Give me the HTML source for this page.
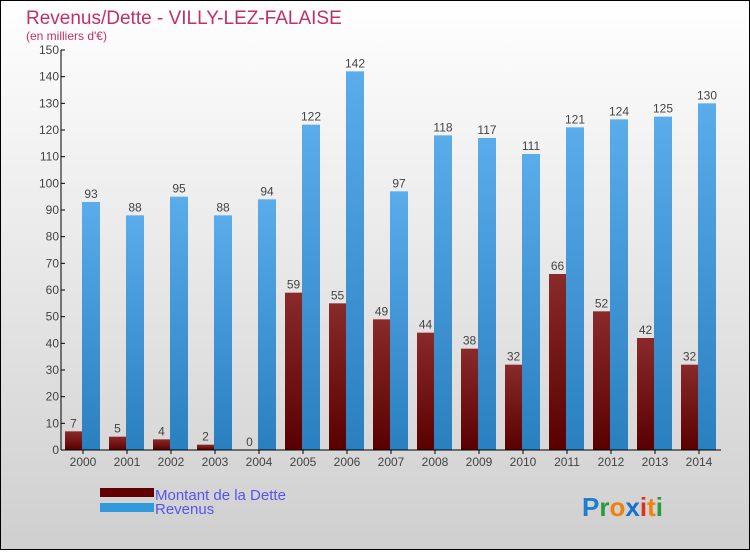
<!DOCTYPE html>
<html><head><meta charset="utf-8"><style>
body{margin:0}
#c{width:750px;height:550px;position:relative;font-family:"Liberation Sans",sans-serif}
</style></head><body>
<div id="c">
<svg id="s" width="750" height="550" xmlns="http://www.w3.org/2000/svg">
<defs>
<linearGradient id="bg" x1="0" y1="0" x2="0" y2="1"><stop offset="0" stop-color="#ffffff"/><stop offset="1" stop-color="#cfcfcf"/></linearGradient>
<linearGradient id="gd" x1="0" y1="0" x2="0" y2="1"><stop offset="0" stop-color="#8a2a2a"/><stop offset="1" stop-color="#5a0000"/></linearGradient>
<linearGradient id="gr" x1="0" y1="0" x2="0" y2="1"><stop offset="0" stop-color="#5aacea"/><stop offset="1" stop-color="#2a7fbf"/></linearGradient>
</defs>
<rect x="0.5" y="0.5" width="749" height="549" fill="url(#bg)" stroke="#000"/>
<text x="26" y="24" font-size="19" fill="#c0306a">Revenus/Dette - VILLY-LEZ-FALAISE</text>
<text x="26" y="40" font-size="12" fill="#c0306a">(en milliers d'€)</text>
<g id="bars"></g>
<g id="axes"></g>
<rect x="100" y="488" width="54" height="9" fill="#600000"/>
<rect x="100" y="503" width="54" height="9" fill="#3399dd"/>
<text x="155" y="500" font-size="15" fill="#5555ee">Montant de la Dette</text>
<text x="155" y="514" font-size="15" fill="#5555ee">Revenus</text>
<text x="582" y="516" font-size="26" font-weight="bold"><tspan fill="#1a7fd0">P</tspan><tspan fill="#2a9a3a">r</tspan><tspan fill="#f08010">o</tspan><tspan fill="#1a6fd0">x</tspan><tspan fill="#e03020">i</tspan><tspan fill="#f08010">t</tspan><tspan fill="#2a9a3a">i</tspan></text>
</svg>
</div>
<script>
const years=["2000","2001","2002","2003","2004","2005","2006","2007","2008","2009","2010","2011","2012","2013","2014"];
const dette=[7,5,4,2,0,59,55,49,44,38,32,66,52,42,32];
const revenus=[93,88,95,88,94,122,142,97,118,117,111,121,124,125,130];
const ticks=[0,10,20,30,40,50,60,70,80,90,100,110,120,130,140,150];
const NS="http://www.w3.org/2000/svg";
const x0=61,x1=721,y0=450,y1=50,maxV=150;
const gw=(x1-x0)/years.length;
const y=v=>y0-(v/maxV)*(y0-y1);
const bars=document.getElementById('bars'),axes=document.getElementById('axes');
function mk(t,a,p){const e=document.createElementNS(NS,t);for(const k in a)e.setAttribute(k,a[k]);p.appendChild(e);return e;}
years.forEach((yr,i)=>{
 const gx=x0+gw*i;
 const d=mk('rect',{x:gx+4,y:y(dette[i]),width:17,height:y0-y(dette[i]),fill:'url(#gd)'},bars);
 
 
 const r=mk('rect',{x:gx+21,y:y(revenus[i]),width:18,height:y0-y(revenus[i]),fill:'url(#gr)'},bars);
 
 
 const t1=mk('text',{x:gx+12.5,y:y(dette[i])-4,'font-size':12,fill:'#444','text-anchor':'middle'},bars);t1.textContent=dette[i];
 
 
 const t2=mk('text',{x:gx+30,y:y(revenus[i])-4,'font-size':12,fill:'#444','text-anchor':'middle'},bars);t2.textContent=revenus[i];
 
 
 mk('line',{x1:gx+gw/2,y1:y0,x2:gx+gw/2,y2:y0+4,stroke:'#000'},axes);
 const xl=mk('text',{x:gx+gw/2,y:y0+16,'font-size':12,fill:'#444','text-anchor':'middle'},axes);xl.textContent=yr;
 
 
});
ticks.forEach(v=>{
 mk('line',{x1:x0,y1:y(v),x2:x0+4,y2:y(v),stroke:'#000'},axes);
 const tl=mk('text',{x:x0-2,y:y(v)+4,'font-size':12,fill:'#444','text-anchor':'end'},axes);tl.textContent=v;
 
 
});
const ya=mk('line',{x1:x0,y1:y1,x2:x0,y2:y0,stroke:'#000'},axes);


const xa=mk('line',{x1:x0,y1:y0,x2:x1,y2:y0,stroke:'#000'},axes);


</script>
</body></html>
